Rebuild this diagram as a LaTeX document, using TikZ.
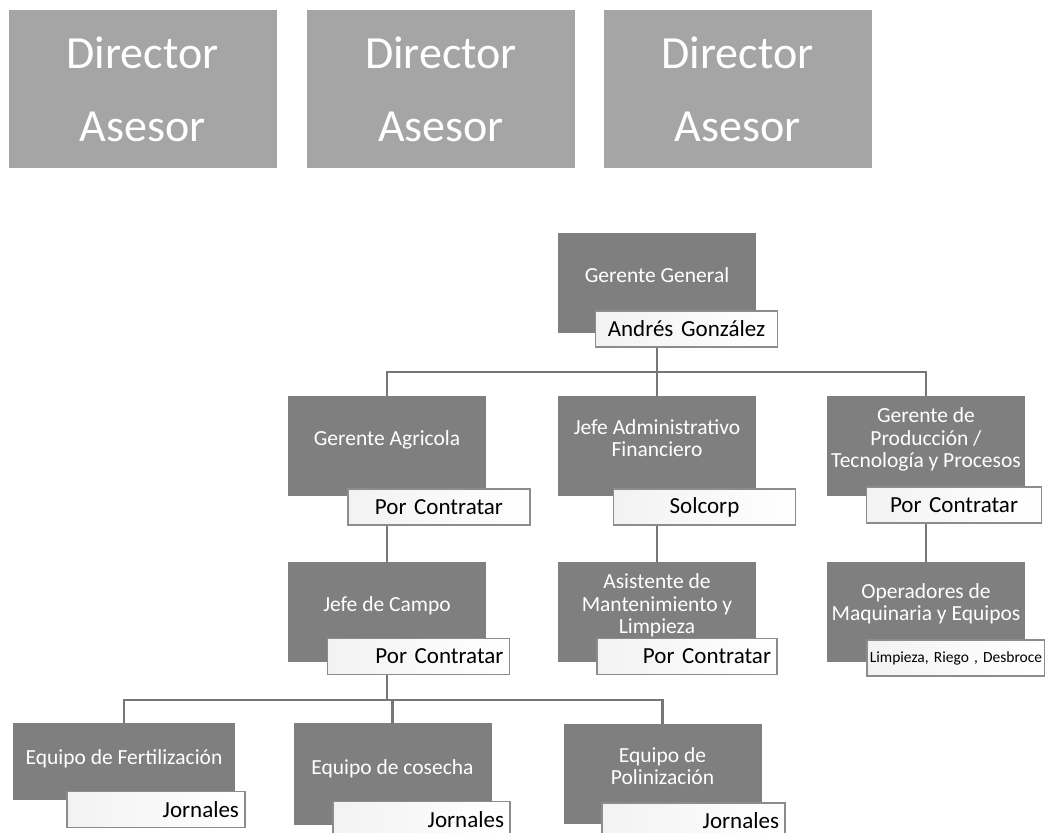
\documentclass[tikz,border=0pt]{standalone}
\usepackage{fontspec}
\setmainfont{Carlito}
\usetikzlibrary{calc}

\definecolor{dirgray}{HTML}{A5A5A5}
\definecolor{rolegray}{HTML}{7F7F7F}
\definecolor{linegray}{HTML}{767676}
\definecolor{edgegray}{HTML}{8C8C8C}

\tikzset{
  director/.style={fill=dirgray, text=white, minimum width=268pt, minimum height=158pt,
    inner sep=0pt, align=center, font=\fontsize{46}{73}\selectfont},
  role/.style={fill=rolegray, text=white, minimum width=198pt, minimum height=100pt,
    inner sep=0pt, align=center, text depth=16pt, font=\fontsize{21.5}{22.5}\selectfont},
  namebox/.style={draw=edgegray, line width=1.3pt, left color=black!5, right color=white,
    text width=170pt, inner xsep=6pt, minimum height=36pt, inner ysep=0pt,
    align=center, font=\fontsize{23}{26}\selectfont},
  conn/.style={draw=linegray, line width=2.5pt}
}

\begin{document}
\begin{tikzpicture}[x=1pt, y=-1pt]
  \useasboundingbox (0,0) rectangle (1045,833);

  % consejo de directores
  \node[director] (dir1) at (142.5,89) {Director\\Asesor};
  \node[director] (dir2) at (441,89) {Director\\Asesor};
  \node[director] (dir3) at (737.5,89) {Director\\Asesor};

  % cargos
  \node[role] (gg) at (657,283) {Gerente General};
  \node[role] (ga) at (387,446) {Gerente Agricola};
  \node[role] (jaf) at (657,446) {Jefe Administrativo\\Financiero};
  \node[role] (gp) at (926,446) {Gerente de\\Producción /\\Tecnología y Procesos};
  \node[role] (jc) at (387,612) {Jefe de Campo};
  \node[role] (am) at (657,612) {Asistente de\\Mantenimiento y\\Limpieza};
  \node[role, text depth=20pt] (op) at (926,612) {Operadores de\\Maquinaria y Equipos};
  \node[role, minimum width=222pt, minimum height=77pt, text depth=8pt] (ef) at (124,761.5) {Equipo de Fertilización};
  \node[role, minimum height=102pt, text depth=13pt] (ec) at (392.5,774) {Equipo de cosecha};
  \node[role] (ep) at (662.5,774) {Equipo de\\Polinización};

  % conectores
  \draw[conn] (gg.south) -- ++(0,39) coordinate (bus1);
  \draw[conn] (ga.north) |- (bus1) -| (gp.north);
  \draw[conn] (bus1) -- (jaf.north);
  \draw[conn] (ga.south) -- (jc.north);
  \draw[conn] (jaf.south) -- (am.north);
  \draw[conn] (gp.south) -- (op.north);
  \draw[conn] (jc.south) -- ++(0,38) coordinate (bus2);
  \draw[conn] (ef.north) |- (bus2) -| (ep.north);
  \draw[conn] (ec.north) -- (ec.north |- bus2);

  % nombres
  \node[namebox] (ggname) at (686.5,329) {Andrés González};
  \node[namebox] (ganame) at (439,507) {Por Contratar};
  \node[namebox] (jafname) at (704.5,507) {Solcorp};
  \node[namebox, text width=163pt] (gpname) at (954,505) {Por Contratar};
  \node[namebox, align=right] (jcname) at (418.5,656.5) {Por Contratar};
  \node[namebox, text width=168pt, align=right] (amname) at (687,656.5) {Por Contratar};
  \node[namebox, text width=176pt, inner xsep=1pt, font=\fontsize{15.5}{18}\selectfont] (opname) at (956,658) {Limpieza, Riego , Desbroce};
  \node[namebox, text width=166pt, align=right] (efname) at (156,809.5) {Jornales};
  \node[namebox, text width=165pt, align=right] (ecname) at (421.5,819.5) {Jornales};
  \node[namebox, text width=171pt, align=right] (epname) at (693.5,821) {Jornales};
\end{tikzpicture}
\end{document}
